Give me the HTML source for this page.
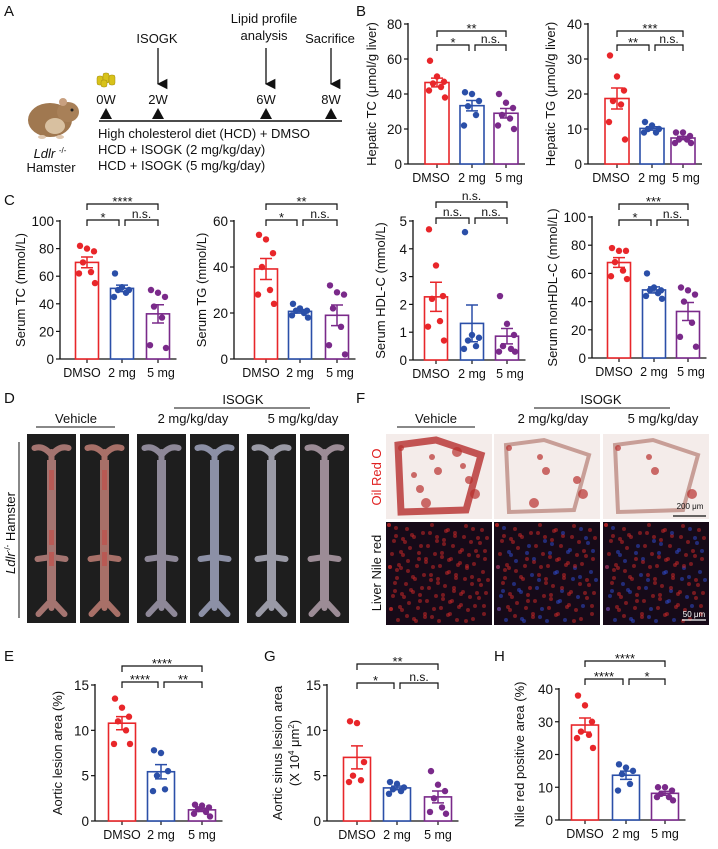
<!DOCTYPE html>
<html><head><meta charset="utf-8"><style>
html,body{margin:0;padding:0;background:#fff;}
svg{display:block;font-family:"Liberation Sans",Arial,sans-serif;}
</style></head><body>
<svg id="fig" width="718" height="849" viewBox="0 0 718 849" xmlns="http://www.w3.org/2000/svg">
<defs>
<marker id="ah" viewBox="0 0 10 10" refX="5" refY="9" markerWidth="10" markerHeight="8" orient="auto-start-reverse"><path d="M0,0 L10,0 L5,10 z" fill="#111"/></marker>
</defs>
<!-- Panel A -->
<g font-size="13" fill="#111">
<text x="4" y="16" font-size="15">A</text>
<text x="157" y="43" text-anchor="middle">ISOGK</text>
<text x="264" y="23" text-anchor="middle">Lipid profile</text>
<text x="264" y="40" text-anchor="middle">analysis</text>
<text x="330" y="43" text-anchor="middle">Sacrifice</text>
<line x1="158" y1="48" x2="158" y2="84" stroke="#111" stroke-width="1.3" marker-end="url(#ah)"/>
<line x1="266" y1="48" x2="266" y2="84" stroke="#111" stroke-width="1.3" marker-end="url(#ah)"/>
<line x1="331" y1="48" x2="331" y2="84" stroke="#111" stroke-width="1.3" marker-end="url(#ah)"/>
<text x="106" y="104" text-anchor="middle">0W</text>
<text x="158" y="104" text-anchor="middle">2W</text>
<text x="266" y="104" text-anchor="middle">6W</text>
<text x="331" y="104" text-anchor="middle">8W</text>
<g fill="#111">
<polygon points="100,119 112,119 106,108"/><polygon points="152,119 164,119 158,108"/>
<polygon points="260,119 272,119 266,108"/><polygon points="325,119 337,119 331,108"/>
</g>
<line x1="99" y1="121" x2="342" y2="121" stroke="#111" stroke-width="1.5"/>
<text x="98" y="138">High cholesterol diet (HCD) + DMSO</text>
<text x="98" y="154">HCD + ISOGK (2 mg/kg/day)</text>
<text x="98" y="170">HCD + ISOGK (5 mg/kg/day)</text>
<g fill="#d8c21a" stroke="#a08a10" stroke-width="0.5">
<rect x="97" y="76" width="6" height="9" rx="2"/><rect x="103" y="73" width="6" height="10" rx="2"/><rect x="109" y="75" width="6" height="10" rx="2"/><rect x="101" y="80" width="6" height="7" rx="2"/>
</g>
<g>
<ellipse cx="50" cy="120" rx="22" ry="17" fill="#a07850"/>
<ellipse cx="68" cy="112" rx="11" ry="10" fill="#a88058"/>
<ellipse cx="55" cy="126" rx="10" ry="8" fill="#d8c0a0"/>
<circle cx="63" cy="102" r="4" fill="#c8a080"/>
<circle cx="72" cy="110" r="1.5" fill="#222"/>
<ellipse cx="60" cy="137" rx="4" ry="2" fill="#e0c8b0"/><ellipse cx="42" cy="137" rx="4" ry="2" fill="#e0c8b0"/>
</g>
<text x="50" y="158" text-anchor="middle" font-style="italic">Ldlr <tspan font-size="8" dy="-5" font-style="normal">-/-</tspan></text>
<text x="51" y="172" text-anchor="middle">Hamster</text>
</g>
<g id="charts"></g>
<!-- Panel D -->
<g font-size="13" fill="#111">
<text x="4" y="403" font-size="15">D</text>
<text x="243" y="404" text-anchor="middle">ISOGK</text>
<line x1="174" y1="408" x2="310" y2="408" stroke="#111" stroke-width="1"/>
<text x="76" y="423" text-anchor="middle">Vehicle</text>
<line x1="36" y1="427" x2="115" y2="427" stroke="#111" stroke-width="1"/>
<text x="193" y="423" text-anchor="middle">2 mg/kg/day</text>
<text x="303" y="423" text-anchor="middle">5 mg/kg/day</text>
<line x1="19" y1="442" x2="19" y2="618" stroke="#111" stroke-width="1"/>
<text transform="translate(15,533) rotate(-90)" text-anchor="middle"><tspan font-style="italic">Ldlr</tspan><tspan font-size="8" dy="-5">-/-</tspan><tspan dy="5"> Hamster</tspan></text>
<g id="aortas"></g>
</g>
<!-- Panel F -->
<g font-size="13" fill="#111">
<text x="356" y="403" font-size="15">F</text>
<text x="601" y="404" text-anchor="middle">ISOGK</text>
<line x1="534" y1="408" x2="670" y2="408" stroke="#111" stroke-width="1"/>
<text x="436" y="423" text-anchor="middle">Vehicle</text>
<line x1="397" y1="427" x2="475" y2="427" stroke="#111" stroke-width="1"/>
<text x="553" y="423" text-anchor="middle">2 mg/kg/day</text>
<text x="663" y="423" text-anchor="middle">5 mg/kg/day</text>
<text transform="translate(381,477) rotate(-90)" text-anchor="middle" fill="#e02020">Oil Red O</text>
<text transform="translate(381,573) rotate(-90)" text-anchor="middle">Liver Nile red</text>
<g id="micro"></g>
</g>
</svg>
<script>
const groups = ["DMSO", "2 mg", "5 mg"];
// Hepatic TC
const hepTC_dmso = [59, 50, 47, 46, 44, 42, 38];
const hepTC_2mg = [41, 40, 36, 33, 28, 22];
const hepTC_5mg = [40, 35, 32, 28, 26, 22, 20];
const hepTC_ticks = [0, 20, 40, 60, 80];
// Hepatic TG
const hepTG_dmso = [31, 25, 21, 18, 17, 12, 7];
const hepTG_2mg = [12, 11, 10, 10, 9, 9];
const hepTG_5mg = [9, 9, 8, 7, 7, 6, 6];
const hepTG_ticks = [0, 10, 20, 30, 40];
// Serum TC
const serTC_dmso = [82, 80, 78, 70, 63, 62, 55];
const serTC_2mg = [62, 52, 50, 50, 48, 45];
const serTC_5mg = [50, 48, 45, 38, 30, 10, 8];
const serTC_ticks = [0, 20, 40, 60, 80, 100];
// Serum TG
const serTG_dmso = [54, 52, 46, 40, 30, 28, 24];
const serTG_2mg = [24, 22, 21, 21, 20, 19, 18];
const serTG_5mg = [32, 29, 28, 22, 14, 6, 2];
const serTG_ticks = [0, 20, 40, 60];
// Serum HDL-C
const hdl_dmso = [4.7, 3.4, 2.3, 2.2, 1.4, 1.2, 0.7];
const hdl_2mg = [4.6, 0.9, 0.8, 0.7, 0.5, 0.4];
const hdl_5mg = [2.3, 1.3, 0.9, 0.5, 0.4, 0.3, 0.3];
const hdl_ticks = [0, 1, 2, 3, 4, 5];
// Serum nonHDL-C
const nonhdl_dmso = [78, 76, 76, 68, 62, 58, 56];
const nonhdl_2mg = [60, 50, 48, 48, 46, 44, 42];
const nonhdl_5mg = [50, 48, 45, 40, 25, 15, 8];
const nonhdl_ticks = [0, 20, 40, 60, 80, 100];
// E aortic lesion
const aortic_dmso = [13.5, 12.5, 11.5, 11, 10, 8.5, 8.5];
const aortic_2mg = [7.8, 7.5, 5.5, 5, 3.5, 3.3];
const aortic_5mg = [1.8, 1.7, 1.5, 1.3, 1, 0.8, 0.5];
const aortic_ticks = [0, 5, 10, 15];
// G aortic sinus
const sinus_dmso = [11, 10.8, 6.5, 5, 4.5, 4.3];
const sinus_2mg = [4.3, 4.1, 3.7, 3.5, 3.3, 3.0];
const sinus_5mg = [5.5, 4, 3.3, 2.5, 1.5, 1, 0.8];
const sinus_ticks = [0, 5, 10, 15];
// H nile red
const nile_dmso = [38, 35, 30, 27, 26, 25, 22];
const nile_2mg = [17, 16, 15, 14, 11, 9];
const nile_5mg = [10, 10, 9, 8, 7, 7, 6];
const nile_ticks = [0, 10, 20, 30, 40];

const NS = "http://www.w3.org/2000/svg";
const colors = ["#e8262a", "#2b4fa8", "#7a2a8a"];
const jit = [-7, 0, 7, -4, 4, -8, 8];
function el(tag, attrs, parent) {
  const e = document.createElementNS(NS, tag);
  for (const k in attrs) e.setAttribute(k, attrs[k]);
  parent.appendChild(e);
  return e;
}
const mean = a => a.reduce((s, v) => s + v, 0) / a.length;
const sem = a => { const m = mean(a); return Math.sqrt(a.reduce((s, v) => s + (v - m) * (v - m), 0) / (a.length - 1)) / Math.sqrt(a.length); };

function chart(c) {
  const root = document.getElementById("charts");
  const g = el("g", {}, root);
  
  
  const y = v => c.y0 - (v / c.max) * (c.y0 - c.yTop);
  const xEnd = c.cx[2] + c.bw / 2 + 7;
  if (c.label) {
    const t = el("text", { x: c.lx, y: c.ly, "font-size": 15, fill: "#111" }, g);
    t.textContent = c.label;
    
    
  }
  const ya = el("line", { x1: c.ax, y1: c.yTop - 1, x2: c.ax, y2: c.y0, stroke: "#111", "stroke-width": 1.3 }, g);
  
  
  const xa = el("line", { x1: c.ax, y1: c.y0, x2: xEnd, y2: c.y0, stroke: "#111", "stroke-width": 1.3 }, g);
  
  
  c.ticks.forEach(tv => {
    el("line", { x1: c.ax - 4, y1: y(tv), x2: c.ax, y2: y(tv), stroke: "#111", "stroke-width": 1.2 }, g);
    const t = el("text", { x: c.ax - 6, y: y(tv) + 5, "text-anchor": "end", "font-size": 13.5, fill: "#111" }, g);
    t.textContent = tv;
    
    
  });
  groups.forEach((gn, i) => {
    el("line", { x1: c.cx[i], y1: c.y0, x2: c.cx[i], y2: c.y0 + 4, stroke: "#111", "stroke-width": 1.2 }, g);
    const t = el("text", { x: c.cx[i] + (c.xoff ? c.xoff[i] : 0), y: c.y0 + 18, "text-anchor": "middle", "font-size": 12.5, fill: "#111" }, g);
    t.textContent = gn;
    
    
  });
  const my = (c.yTop + c.y0) / 2;
  const tt = el("text", { transform: `translate(${c.tx},${my}) rotate(-90)`, "text-anchor": "middle", "font-size": 13, fill: "#111" }, g);
  tt.textContent = c.title;
  
  
  if (c.title2) {
    const t2 = el("text", { transform: `translate(${c.tx + 17},${my}) rotate(-90)`, "text-anchor": "middle", "font-size": 13, fill: "#111" }, g);
    t2.innerHTML = c.title2;
    
    
  }
  c.data.forEach((arr, i) => {
    const m = mean(arr), s = sem(arr), col = colors[i], cx = c.cx[i];
    const b = el("rect", { x: cx - c.bw / 2, y: y(m), width: c.bw, height: c.y0 - y(m), fill: "#fff", stroke: col, "stroke-width": 1.6 }, g);
    
    
    arr.forEach((v, k) => {
      const d = el("circle", { cx: cx + jit[k % jit.length], cy: y(v), r: 3.2, fill: col }, g);
      
      
    });
    const e = el("path", { d: `M${cx},${y(m - s)}V${y(m + s)}M${cx - 6},${y(m + s)}H${cx + 6}M${cx - 6},${y(m - s)}H${cx + 6}`, stroke: col, "stroke-width": 1.5, fill: "none" }, g);
    
    
  });
  c.sigs.forEach(sg => {
    const [lab, i, j, yl] = sg;
    const x1 = c.cx[i] + (j - i === 1 && i === 1 ? 3 : 0), x2 = c.cx[j] - (j - i === 1 && i === 0 ? 3 : 0);
    const p = el("path", { d: `M${x1},${yl + 6}V${yl}H${x2}V${yl + 6}`, stroke: "#111", "stroke-width": 1.2, fill: "none" }, g);
    
    
    const t = el("text", { x: (x1 + x2) / 2, y: lab === "n.s." ? yl - 2 : yl + 2, "text-anchor": "middle", "font-size": lab === "n.s." ? 12 : 13, fill: "#111" }, g);
    t.textContent = lab;
    
    
  });
}

chart({ name: "hepatic-tc-chart", label: "B", lx: 356, ly: 16, ax: 408, y0: 164, yTop: 24, max: 80, ticks: hepTC_ticks, cx: [437, 472, 506], bw: 24, data: [hepTC_dmso, hepTC_2mg, hepTC_5mg], title: "Hepatic TC (μmol/g liver)", tx: 376, xoff: [-6, 0, 3],
  sigs: [["**", 0, 2, 31], ["*", 0, 1, 45], ["n.s.", 1, 2, 45]] });
chart({ name: "hepatic-tg-chart", ax: 588, y0: 164, yTop: 24, max: 40, ticks: hepTG_ticks, cx: [617, 652, 683], bw: 24, data: [hepTG_dmso, hepTG_2mg, hepTG_5mg], title: "Hepatic TG (μmol/g liver)", tx: 555, xoff: [-6, 0, 3],
  sigs: [["***", 0, 2, 31], ["**", 0, 1, 45], ["n.s.", 1, 2, 45]] });
chart({ name: "serum-tc-chart", label: "C", lx: 4, ly: 205, ax: 60, y0: 359, yTop: 221, max: 100, ticks: serTC_ticks, cx: [87, 122, 158], bw: 23, data: [serTC_dmso, serTC_2mg, serTC_5mg], title: "Serum TC (mmol/L)", tx: 25, xoff: [-5, 0, 3],
  sigs: [["****", 0, 2, 204], ["*", 0, 1, 220], ["n.s.", 1, 2, 220]] });
chart({ name: "serum-tg-chart", ax: 234, y0: 359, yTop: 221, max: 60, ticks: serTG_ticks, cx: [266, 300, 337], bw: 23, data: [serTG_dmso, serTG_2mg, serTG_5mg], title: "Serum TG (mmol/L)", tx: 206, xoff: [-5, 0, 3],
  sigs: [["**", 0, 2, 204], ["*", 0, 1, 220], ["n.s.", 1, 2, 220]] });
chart({ name: "serum-hdl-chart", ax: 413, y0: 360, yTop: 221, max: 5, ticks: hdl_ticks, cx: [436, 472, 507], bw: 23, data: [hdl_dmso, hdl_2mg, hdl_5mg], title: "Serum HDL-C (mmol/L)", tx: 385, xoff: [-5, 0, 3],
  sigs: [["n.s.", 0, 2, 202], ["n.s.", 0, 1, 218], ["n.s.", 1, 2, 218]] });
chart({ name: "serum-nonhdl-chart", ax: 592, y0: 358, yTop: 217, max: 100, ticks: nonhdl_ticks, cx: [619, 654, 688], bw: 23, data: [nonhdl_dmso, nonhdl_2mg, nonhdl_5mg], title: "Serum nonHDL-C (mmol/L)", tx: 557, xoff: [-5, 0, 3],
  sigs: [["***", 0, 2, 204], ["*", 0, 1, 220], ["n.s.", 1, 2, 220]] });
chart({ name: "aortic-lesion-chart", label: "E", lx: 4, ly: 661, ax: 95, y0: 821, yTop: 685, max: 15, ticks: aortic_ticks, cx: [122, 161, 202], bw: 27, data: [aortic_dmso, aortic_2mg, aortic_5mg], title: "Aortic lesion area (%)", tx: 62,
  sigs: [["****", 0, 2, 666], ["****", 0, 1, 682], ["**", 1, 2, 682]] });
chart({ name: "aortic-sinus-chart", label: "G", lx: 264, ly: 661, ax: 327, y0: 821, yTop: 685, max: 15, ticks: sinus_ticks, cx: [357, 397, 438], bw: 27, data: [sinus_dmso, sinus_2mg, sinus_5mg], title: "Aortic sinus lesion area", title2: "(X 10<tspan font-size='8' dy='-5'>4</tspan><tspan dy='5'> μm</tspan><tspan font-size='8' dy='-5'>2</tspan><tspan dy='5'>)</tspan>", tx: 282,
  sigs: [["**", 0, 2, 664], ["*", 0, 1, 683], ["n.s.", 1, 2, 683]] });
chart({ name: "nile-red-chart", label: "H", lx: 494, ly: 661, ax: 559, y0: 820, yTop: 689, max: 40, ticks: nile_ticks, cx: [585, 626, 665], bw: 27, data: [nile_dmso, nile_2mg, nile_5mg], title: "Nile red positive area (%)", tx: 524,
  sigs: [["****", 0, 2, 661], ["****", 0, 1, 679], ["*", 1, 2, 679]] });

// Aorta photos (decorative)
const aortaG = document.getElementById("aortas");
const photoX = [27, 80, 137, 190, 247, 300];
const aortaCol = ["#a47470", "#a87068", "#8e8898", "#8c90a6", "#9a9aa6", "#9c8c96"];
photoX.forEach((px, i) => {
  const r = el("rect", { x: px, y: 434, width: 49, height: 189, fill: "#1e1e1e" }, aortaG);
  
  
  const cx = px + 24.5, col = aortaCol[i];
  el("path", { d: `M${cx},452 L${cx},608 M${cx},455 Q${cx - 8},445 ${cx - 17},448 M${cx},455 Q${cx + 8},445 ${cx + 17},448 M${cx},557 L${cx - 14},559 M${cx},557 L${cx + 14},559 M${cx},600 L${cx - 13},614 M${cx},600 L${cx + 13},614`, stroke: col, "stroke-width": 6, fill: "none", "stroke-linecap": "round" }, aortaG);
  el("path", { d: `M${cx},460 L${cx},600`, stroke: col, "stroke-width": 9, fill: "none" }, aortaG);
  if (i < 2) el("path", { d: `M${cx},470 L${cx},490 M${cx},530 L${cx},545 M${cx},552 L${cx},566`, stroke: "#c0504a", "stroke-width": 5, fill: "none", opacity: 0.7 }, aortaG);
});

// Microscopy (decorative)
const mg = document.getElementById("micro");
const imgX = [386, 494, 603];
const redAmt = [1.0, 0.6, 0.35];
imgX.forEach((ix, i) => {
  const a = el("rect", { x: ix, y: 434, width: 106, height: 85, fill: "#f4ecea" }, mg);
  
  
  el("path", { d: `M${ix + 12},${445} L${ix + 50},${440} L${ix + 95},${455} L${ix + 80},${510} L${ix + 15},${512} Z`, stroke: i === 0 ? "#b83a38" : "#c09088", "stroke-width": i === 0 ? 7 : 4, fill: "none", opacity: 0.85 }, mg);
  for (let k = 0; k < 10 * redAmt[i]; k++) {
    el("circle", { cx: ix + 15 + ((k * 37) % 80), cy: 448 + ((k * 23) % 60), r: 3 + (k % 3), fill: "#b8302e", opacity: 0.7 }, mg);
  }
  const b = el("rect", { x: ix, y: 522, width: 106, height: 103, fill: "#160a18" }, mg);
  
  
  for (let k = 0; k < 140; k++) {
    const xx = ix + 3 + ((k * 53) % 100), yy = 525 + ((k * 31 + (k * k) % 17) % 97);
    el("circle", { cx: xx, cy: yy, r: 2, fill: k % 3 < 3 * redAmt[i] ? "#c82828" : "#3048c8", opacity: 0.55 }, mg);
  }
});
const s1 = el("text", { x: 690, y: 509, "font-size": 8, "text-anchor": "middle", fill: "#111" }, mg);
s1.textContent = "200 μm";


el("line", { x1: 673, y1: 516, x2: 706, y2: 516, stroke: "#111", "stroke-width": 1.2 }, mg);
const s2 = el("text", { x: 694, y: 617, "font-size": 8, "text-anchor": "middle", fill: "#fff" }, mg);
s2.textContent = "50 μm";


el("line", { x1: 682, y1: 620, x2: 706, y2: 620, stroke: "#fff", "stroke-width": 1.2 }, mg);
</script>
</body></html>
